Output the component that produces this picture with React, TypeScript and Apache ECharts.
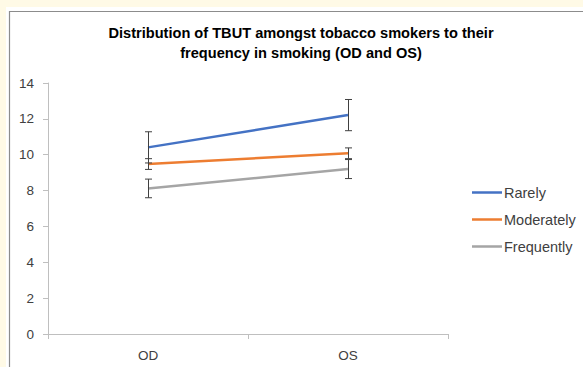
import React, { useEffect, useRef } from "react";
import * as echarts from "echarts";

const categories = ["OD", "OS"];
const seriesNames = ["Rarely", "Moderately", "Frequently"];
const rarely = [10.41, 12.21];
const moderately = [9.48, 10.08];
const frequently = [8.12, 9.2];
const rarelyErr = [0.87, 0.87];
const moderatelyErr = [0.3, 0.3];
const frequentlyErr = [0.52, 0.53];
const colors = ["#4472C4", "#ED7D31", "#A5A5A5"];
const yTicks = { min: 0, max: 14, interval: 2 };

const FONT = "'Liberation Sans', Arial, sans-serif";

export default function App() {
  const ref = useRef<HTMLDivElement>(null);
  useEffect(() => {
    if (!ref.current) return;
    const chart = echarts.init(ref.current, undefined, { renderer: "svg" });
    const values = [rarely, moderately, frequently];
    const errs = [rarelyErr, moderatelyErr, frequentlyErr];
    const lineSeries = values.map((v, i) => ({
      name: seriesNames[i],
      type: "line",
      data: v,
      symbol: "none",
      lineStyle: { color: colors[i], width: 2.5 },
      itemStyle: { color: colors[i] },
      z: 2,
    }));
    const errSeries = values.map((v, i) => ({
      name: seriesNames[i] + " error",
      type: "custom",
      z: 5,
      data: v.map((y, k) => [k, y, errs[i][k]]),
      encode: { x: 0, y: 1 },
      renderItem: (params: any, api: any) => {
        const x = api.value(0);
        const y = api.value(1);
        const e = api.value(2);
        const top = api.coord([x, y + e]);
        const bot = api.coord([x, y - e]);
        const cx = Math.round(top[0]) + 0.5;
        const hw = 3.5;
        const style = { stroke: "#404040", lineWidth: 1 };
        return {
          type: "group",
          children: [
            { type: "line", shape: { x1: cx, y1: top[1], x2: cx, y2: bot[1] }, style },
            { type: "line", shape: { x1: cx - hw, y1: top[1], x2: cx + hw, y2: top[1] }, style },
            { type: "line", shape: { x1: cx - hw, y1: bot[1], x2: cx + hw, y2: bot[1] }, style },
          ],
        };
      },
    }));
    chart.setOption({
      animation: false,
      backgroundColor: "#FFFAE6",
      textStyle: { fontFamily: FONT },
      graphic: [
        { type: "rect", shape: { x: 6, y: 7, width: 600, height: 400 }, style: { fill: "#FFFFFF" }, z: -10 },
        { type: "rect", shape: { x: 9.5, y: 11.5, width: 600, height: 400 }, style: { fill: "none", stroke: "#8C8C8C", lineWidth: 1.2 }, z: -9 },
      ],
      title: {
        text: "Distribution of TBUT amongst tobacco smokers to their\nfrequency in smoking (OD and OS)",
        left: 296,
        top: 18,
        textAlign: "center",
        textStyle: { fontFamily: FONT, fontSize: 14.6, fontWeight: "bold", color: "#000000", lineHeight: 20 },
      },
      legend: {
        data: seriesNames.map((n) => ({ name: n, icon: "rect" })),
        orient: "vertical",
        left: 472,
        top: 185,
        padding: 0,
        itemWidth: 30,
        itemHeight: 2.5,
        itemGap: 12,
        textStyle: { fontFamily: FONT, fontSize: 14.5, color: "#404040", lineHeight: 14, padding: [0, 0, 0, -3] },
      },
      grid: { left: 48, right: 135, top: 83, bottom: 33, containLabel: false },
      xAxis: {
        type: "category",
        data: categories,
        boundaryGap: true,
        axisLine: { lineStyle: { color: "#BFBFBF", width: 1 } },
        axisTick: { show: true, length: 5, alignWithLabel: false, lineStyle: { color: "#BFBFBF" } },
        axisLabel: { margin: 14, fontSize: 13.5, color: "#404040", fontFamily: FONT },
        splitLine: { show: false },
      },
      yAxis: {
        type: "value",
        min: yTicks.min,
        max: yTicks.max,
        interval: yTicks.interval,
        axisLine: { show: true, lineStyle: { color: "#BFBFBF", width: 1 } },
        axisTick: { show: true, length: 5, lineStyle: { color: "#BFBFBF" } },
        axisLabel: { margin: 14, fontSize: 13.5, color: "#404040", fontFamily: FONT },
        splitLine: { show: false },
      },
      series: [...lineSeries, ...errSeries],
    });
    return () => chart.dispose();
  }, []);
  return (
    <div style={{ position: "fixed", left: 0, top: 0, width: 583, height: 367 }}>
      <div ref={ref} style={{ width: 583, height: 367 }} />
    </div>
  );
}
